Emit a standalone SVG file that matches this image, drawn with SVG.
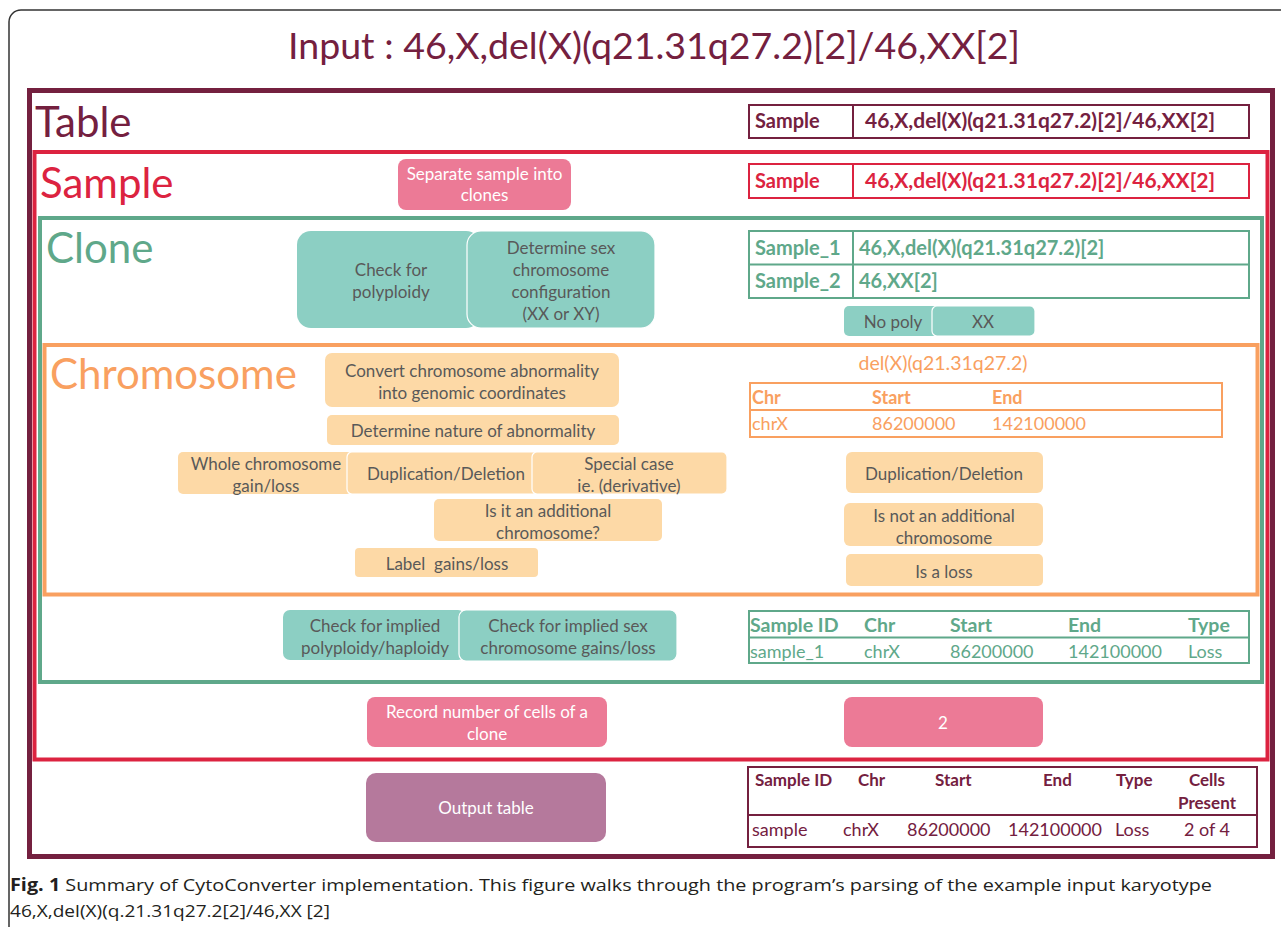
<svg xmlns="http://www.w3.org/2000/svg" width="1281" height="927" viewBox="0 0 1281 927">
<style>
text{font-family:Lato,"Open Sans","Liberation Sans",sans-serif}
.frame{fill:none}
.sec{font-size:42px}
.box{font-size:17px;fill:#595959;text-anchor:middle}
.wbox{font-size:17px;fill:#ffffff;text-anchor:middle}
.teal{fill:#8ccfc3}
.peach{fill:#fdd9a6}
.pink{fill:#ec7a96}
.ov{stroke:#ffffff;stroke-width:1.2}
.tb{font-size:20px;font-weight:bold}
.tr{font-size:18px}
.th{font-size:19.5px;font-weight:bold}
.ob{font-size:17px;font-weight:bold}
.cell{fill:#ffffff;stroke-width:2}
</style>
<rect x="9" y="10" width="1300" height="960" rx="12" fill="#ffffff" stroke="#333333" stroke-width="1.5"/>
<text x="654" y="59" font-size="37.5" fill="#74203f" text-anchor="middle">Input : 46,X,del(X)(q21.31q27.2)[2]/46,XX[2]</text>

<g id="table-section">
<rect class="frame" x="29.5" y="90.5" width="1243" height="766" stroke="#74203f" stroke-width="5"/>
<text class="sec" x="35" y="137" fill="#74203f">Table</text>
</g>
<g id="sample-section">
<rect class="frame" x="34.5" y="152" width="1233" height="607.5" stroke="#dc2340" stroke-width="4"/>
<text class="sec" x="40" y="198" fill="#dc2340">Sample</text>
</g>
<g id="clone-section">
<rect class="frame" x="40" y="218" width="1222" height="464" stroke="#5fa88a" stroke-width="4"/>
<text class="sec" x="46" y="263" fill="#5fa88a" font-size="40">Clone</text>
</g>
<g id="chromosome-section">
<rect class="frame" x="44.5" y="345" width="1213" height="249.5" stroke="#f9a060" stroke-width="4"/>
<text class="sec" x="50" y="389" fill="#f9a060">Chromosome</text>
</g>

<g id="table-input">
<rect class="cell" x="749" y="105" width="500" height="33" stroke="#74203f"/>
<line x1="853" y1="105" x2="853" y2="138" stroke="#74203f" stroke-width="2"/>
<text class="tb" x="755" y="128" fill="#74203f">Sample</text>
<text class="tb" x="1040" y="128" fill="#74203f" text-anchor="middle" textLength="350" lengthAdjust="spacingAndGlyphs">46,X,del(X)(q21.31q27.2)[2]/46,XX[2]</text>
</g>

<g id="separate-clones">
<rect class="pink" x="398" y="159" width="173" height="51" rx="8"/>
<text class="wbox" x="484.5" y="180">Separate sample into</text>
<text class="wbox" x="484.5" y="201">clones</text>
</g>
<g id="sample-table">
<rect class="cell" x="749" y="164" width="500" height="34" stroke="#dc2340"/>
<line x1="853" y1="164" x2="853" y2="198" stroke="#dc2340" stroke-width="2"/>
<text class="tb" x="755" y="188" fill="#dc2340">Sample</text>
<text class="tb" x="1040" y="188" fill="#dc2340" text-anchor="middle" textLength="350" lengthAdjust="spacingAndGlyphs">46,X,del(X)(q21.31q27.2)[2]/46,XX[2]</text>
</g>

<g id="check-polyploidy">
<rect class="teal" x="297" y="231" width="183" height="97" rx="14"/>
<text class="box" x="391" y="276">Check for</text>
<text class="box" x="391" y="298">polyploidy</text>
</g>
<g id="determine-sex">
<rect class="teal ov" x="467" y="231" width="188" height="97" rx="14"/>
<text class="box" x="561" y="254">Determine sex</text>
<text class="box" x="561" y="276">chromosome</text>
<text class="box" x="561" y="298">configuration</text>
<text class="box" x="561" y="320">(XX or XY)</text>
</g>
<g id="clone-table">
<rect class="cell" x="749" y="231" width="500" height="67" stroke="#5fa88a"/>
<line x1="749" y1="264.5" x2="1249" y2="264.5" stroke="#5fa88a" stroke-width="2"/>
<line x1="853" y1="231" x2="853" y2="298" stroke="#5fa88a" stroke-width="2"/>
<text class="tb" x="755" y="255" fill="#5fa88a">Sample_1</text>
<text class="tb" x="859" y="255" fill="#5fa88a">46,X,del(X)(q21.31q27.2)[2]</text>
<text class="tb" x="755" y="288" fill="#5fa88a">Sample_2</text>
<text class="tb" x="859" y="288" fill="#5fa88a">46,XX[2]</text>
</g>
<g id="no-poly">
<rect class="teal" x="844" y="306" width="96" height="30" rx="5"/>
<text class="box" x="893" y="328">No poly</text>
</g>
<g id="xx">
<rect class="teal ov" x="932" y="306" width="103" height="30" rx="5"/>
<text class="box" x="983" y="328">XX</text>
</g>

<g id="convert-coords">
<rect class="peach" x="325" y="353" width="294" height="54" rx="7"/>
<text class="box" x="472" y="377">Convert chromosome abnormality</text>
<text class="box" x="472" y="399">into genomic coordinates</text>
</g>
<g id="determine-nature">
<rect class="peach" x="327" y="415" width="292" height="30" rx="5"/>
<text class="box" x="473" y="437">Determine nature of abnormality</text>
</g>
<g id="whole-chromosome">
<rect class="peach" x="178" y="452" width="174" height="42" rx="5"/>
<text class="box" x="266" y="470">Whole chromosome</text>
<text class="box" x="266" y="492">gain/loss</text>
</g>
<g id="dup-del">
<rect class="peach ov" x="347" y="452" width="191" height="42" rx="5"/>
<text class="box" x="446" y="480">Duplication/Deletion</text>
</g>
<g id="special-case">
<rect class="peach ov" x="532" y="452" width="195" height="42" rx="5"/>
<text class="box" x="629" y="470">Special case</text>
<text class="box" x="629" y="492">ie. (derivative)</text>
</g>
<g id="additional-q">
<rect class="peach" x="434" y="499" width="228" height="42" rx="5"/>
<text class="box" x="548" y="517">Is it an additional</text>
<text class="box" x="548" y="539">chromosome?</text>
</g>
<g id="label-gains">
<rect class="peach" x="355" y="548" width="183" height="29" rx="4"/>
<text class="box" x="447" y="570" xml:space="preserve">Label  gains/loss</text>
</g>
<g id="chr-result">
<text x="943" y="370" font-size="19.5" fill="#f9a060" text-anchor="middle">del(X)(q21.31q27.2)</text>
<rect class="cell" x="750" y="383" width="472" height="54" stroke="#f9a060"/>
<line x1="750" y1="410" x2="1222" y2="410" stroke="#f9a060" stroke-width="2"/>
<text class="tr" x="752" y="404" fill="#f9a060" font-weight="bold">Chr</text>
<text class="tr" x="872" y="404" fill="#f9a060" font-weight="bold">Start</text>
<text class="tr" x="992" y="404" fill="#f9a060" font-weight="bold">End</text>
<text class="tr" x="752" y="430" fill="#f9a060">chrX</text>
<text class="tr" x="872" y="430" fill="#f9a060">86200000</text>
<text class="tr" x="992" y="430" fill="#f9a060">142100000</text>
</g>
<g id="dup-del-result">
<rect class="peach" x="846" y="452" width="197" height="41" rx="6"/>
<text class="box" x="944" y="480">Duplication/Deletion</text>
</g>
<g id="not-additional">
<rect class="peach" x="844" y="503" width="199" height="43" rx="6"/>
<text class="box" x="944" y="522">Is not an additional</text>
<text class="box" x="944" y="544">chromosome</text>
</g>
<g id="is-loss">
<rect class="peach" x="846" y="554" width="197" height="32" rx="5"/>
<text class="box" x="944" y="578">Is a loss</text>
</g>

<g id="implied-polyploidy">
<rect class="teal" x="283" y="610" width="182" height="50" rx="7"/>
<text class="box" x="375" y="632">Check for implied</text>
<text class="box" x="375" y="654">polyploidy/haploidy</text>
</g>
<g id="implied-sex">
<rect class="teal ov" x="459" y="610" width="218" height="51" rx="7"/>
<text class="box" x="568" y="632">Check for implied sex</text>
<text class="box" x="568" y="654">chromosome gains/loss</text>
</g>
<g id="clone-result">
<rect class="cell" x="749" y="611" width="500" height="52" stroke="#5fa88a"/>
<line x1="749" y1="637.5" x2="1249" y2="637.5" stroke="#5fa88a" stroke-width="2"/>
<g class="th" fill="#5fa88a">
<text x="750" y="632">Sample ID</text>
<text x="864" y="632">Chr</text>
<text x="950" y="632">Start</text>
<text x="1068" y="632">End</text>
<text x="1188" y="632">Type</text>
</g>
<text class="tr" x="750" y="658" fill="#5fa88a">sample_1</text>
<text class="tr" x="864" y="658" fill="#5fa88a">chrX</text>
<text class="tr" x="950" y="658" fill="#5fa88a">86200000</text>
<text class="tr" x="1068" y="658" fill="#5fa88a">142100000</text>
<text class="tr" x="1188" y="658" fill="#5fa88a">Loss</text>
</g>

<g id="record-cells">
<rect class="pink" x="367" y="697" width="240" height="50" rx="8"/>
<text class="wbox" x="487" y="718">Record number of cells of a</text>
<text class="wbox" x="487" y="740">clone</text>
</g>
<g id="cells-count">
<rect class="pink" x="844" y="697" width="199" height="50" rx="8"/>
<text class="wbox" x="943" y="729">2</text>
</g>

<g id="output-table-step">
<rect x="366" y="773" width="240" height="69" rx="10" fill="#b5799c"/>
<text class="wbox" x="486" y="814">Output table</text>
</g>
<g id="output-table">
<rect class="cell" x="748" y="767" width="509" height="80" stroke="#74203f"/>
<line x1="748" y1="815" x2="1257" y2="815" stroke="#74203f" stroke-width="2"/>
<g class="ob" fill="#74203f">
<text x="755" y="786">Sample ID</text>
<text x="858" y="786">Chr</text>
<text x="935" y="786">Start</text>
<text x="1043" y="786">End</text>
<text x="1116" y="786">Type</text>
<text x="1207" y="786" text-anchor="middle">Cells</text>
<text x="1207" y="809" text-anchor="middle">Present</text>
</g>
<g class="tr" fill="#74203f">
<text x="752" y="836">sample</text>
<text x="843" y="836">chrX</text>
<text x="907" y="836">86200000</text>
<text x="1008" y="836">142100000</text>
<text x="1115" y="836">Loss</text>
<text x="1207" y="836" text-anchor="middle">2 of 4</text>
</g>
</g>

<g id="connectors"/>

<g id="caption" fill="#231f20" font-size="17">
<text x="10" y="891" textLength="1202" lengthAdjust="spacingAndGlyphs" style="font-family:'Open Sans','Liberation Sans',sans-serif"><tspan font-weight="bold">Fig. 1</tspan> Summary of CytoConverter implementation. This figure walks through the program’s parsing of the example input karyotype</text>
<text x="10" y="917" textLength="320" lengthAdjust="spacingAndGlyphs" style="font-family:'Open Sans','Liberation Sans',sans-serif">46,X,del(X)(q.21.31q27.2[2]/46,XX [2]</text>
</g>
</svg>
